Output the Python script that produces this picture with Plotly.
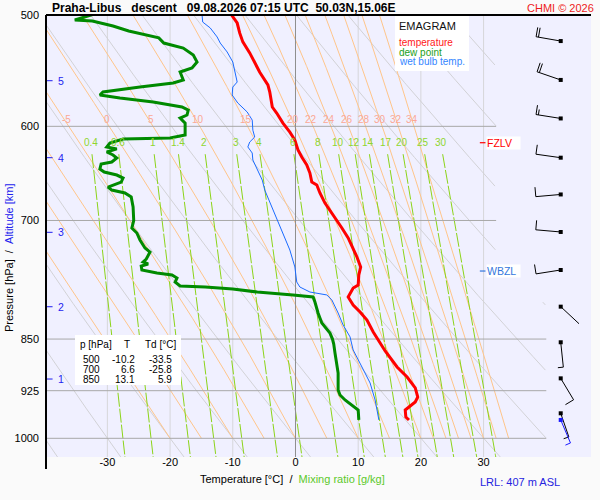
import numpy as np
import plotly.graph_objects as go

# ---------------- sounding values ----------------
t_p = [500, 506.6, 514.9, 522.5, 532.0, 540.9, 549.1, 560.7, 567.2, 581.3, 587.1, 596.8,
       605.7, 613.6, 623.7, 630.9, 639.2, 647.7, 657.3, 660.5, 669.2, 680.3, 688.2, 700,
       708.7, 720.3, 732.2, 743.1, 755.4, 765.4, 778.0, 781.8, 793.4, 803.9, 813.2, 824.0,
       840.3, 850, 866.8, 889.8, 904.5, 920.9, 934.6, 942.3, 954.7, 965.7, 970.5]
t_T = [-10.2, -9.3, -8.9, -8.4, -7.3, -6.5, -5.7, -4.4, -4.1, -3.7, -3.0, -2.0,
       -0.9, -0.1, 0.4, 1.0, 1.8, 2.3, 2.6, 3.4, 3.9, 4.7, 5.5, 6.6,
       7.4, 8.4, 9.2, 9.8, 10.4, 10.1, 10.0, 9.2, 8.4, 9.2, 10.3, 11.4,
       12.4, 13.1, 14.3, 16.2, 17.8, 19.1, 19.5, 19.1, 17.5, 17.6, 18.1]

td_p = [497.5, 500.8, 504.1, 504.9, 509.1, 513.3, 516.6, 519.1, 523.5, 527.8, 533.8, 540.0,
        545.3, 548.9, 556.1, 558.9, 562.6, 567.2, 570.0, 572.8, 576.6, 581.3, 584.2, 589.0,
        591.9, 596.8, 608.6, 611.6, 612.6, 616.6, 620.6, 622.6, 625.7, 628.8, 631.9, 636.1,
        638.2, 643.4, 646.6, 649.8, 653.0, 657.3, 662.7, 666.0, 669.2, 673.6, 684.7, 694.9,
        700, 708.7, 714.5, 722.7, 732.3, 737.1, 745.6, 749.2, 751.7, 754.2, 759.1, 762.9,
        765.4, 769.2, 774.2, 779.3, 780.6, 783.1, 787.0, 790.8, 793.4, 800.0, 814.5, 828.0,
        841.7, 850, 857.0, 869.7, 884.0, 898.6, 924.0, 931.5, 939.2, 946.9, 954.7, 970.4]
td_T = [-31.0, -33.3, -35.2, -32.4, -29.1, -26.6, -23.8, -21.8, -21.0, -17.9, -16.3, -15.7,
        -16.5, -18.4, -17.9, -19.5, -24.8, -30.7, -31.2, -28.0, -22.7, -18.1, -17.1, -17.3,
        -18.4, -17.6, -17.6, -20.0, -27.5, -29.6, -30.1, -28.5, -30.1, -29.1, -28.5, -29.3,
        -31.0, -31.2, -30.5, -28.5, -27.5, -27.8, -29.9, -29.3, -27.2, -26.2, -25.9, -25.9,
        -25.8, -26.1, -25.3, -24.8, -24.0, -23.2, -23.8, -24.3, -23.5, -24.6, -24.5, -22.1,
        -19.7, -18.9, -19.2, -18.4, -14.4, -10.0, -6.1, -0.4, 2.8, 3.1, 3.6, 4.2,
        5.5, 5.9, 6.1, 6.3, 6.6, 6.8, 6.8, 7.1, 7.9, 9.0, 10.0, 10.1]

tw_p = [500, 505.8, 510.7, 518.3, 523.5, 531.2, 540.0, 549.9, 558.0, 562.6, 570.0, 577.5,
        586.1, 593.9, 603.8, 610.6, 615.6, 620.6, 626.8, 634.0, 644.5, 655.2, 666.0, 679.2,
        696.0, 714.5, 734.7, 755.4, 774.2, 780.6, 787.0, 790.8, 797.3, 814.5, 830.7, 847.0,
        865.4, 889.8, 913.4, 939.2, 954.7, 970.4]
tw_T = [-14.9, -14.8, -13.6, -12.5, -12.0, -10.9, -10.0, -9.6, -9.3, -10.0, -10.1, -9.2,
        -7.7, -6.9, -6.8, -6.5, -7.3, -7.6, -6.9, -6.8, -6.1, -5.3, -4.9, -4.1,
        -3.0, -2.0, -0.9, -0.1, 0.2, 0.7, 2.3, 5.0, 5.8, 6.8, 7.6, 8.7,
        9.2, 10.6, 11.9, 12.7, 13.0, 13.3]

wind_p = [521.8, 556.1, 592.3, 631.6, 670.8, 713.3, 759.1, 806.1, 854.5, 906.5, 959.9]
wind_dir = [280, 289, 279, 278, 265, 275, 261, 133, 174, 149, 161]
wind_kt = [20, 20, 15, 10, 10, 10, 10, 2, 5, 10, 5]
sfc_wind_p = [970.4]
sfc_wind_dir = [157]
sfc_wind_kt = [5]

alt_km = [1, 2, 3, 4, 5]
alt_p = [907.5, 806.2, 713.7, 631.6, 556.8]

table_p = [500, 700, 850]
table_T = [-10.2, 6.6, 13.1]
table_Td = [-33.5, -25.8, 5.9]

fzlv_p = 616.3
wbzl_p = 760.4
lrl_m = 407

moist_thw = [-20, -15, -10, -5, 0, 5, 10, 15, 20, 22, 24, 26, 28, 30, 32, 34]
moist_labelled = [-5, 0, 5, 10, 15, 20, 22, 24, 26, 28, 30, 32, 34]
mix_w = [0.4, 0.6, 1, 1.4, 2, 3, 4, 6, 8, 10, 12, 14, 17, 20, 25, 30]
dry_theta_c = list(range(-60, 130, 10))
isotherms = [-30, -20, -10, 10, 20, 30]
isobars = [600, 700, 850, 925, 1000]
x_ticks = [-30, -20, -10, 0, 10, 20, 30]
y_ticks = [500, 600, 700, 850, 925, 1000]

# ---------------- layout constants ----------------
W, H = 600, 500
PL, PR, PT, PB = 46, 591, 15, 457   # plot area edges in pixels
ML, MT = PL, PT
MR, MB = W - PR, H - PB
PW, PH = PR - PL, PB - PT
XMIN, XMAX = -39.79, 47.13
PTOP, PBOT = 500.0, 1031.1
PX_PER_DEG = PW / (XMAX - XMIN)
PX_PER_LN = PH / np.log(PBOT / PTOP)
BARB_COL = 42.3
FONT = "Liberation Sans, Arial, sans-serif"


def px_x(px):
    return (px - PL) / PW


def px_y(py):
    return (PB - py) / PH


def tmax(p):
    return np.where(np.asarray(p) < 800, 32.0, 40.0)


# ---------------- thermodynamics for background ----------------
EPS, RD, CP, LV = 0.622, 287.04, 1005.7, 2.501e6


def es(tc):
    return 6.112 * np.exp(17.67 * tc / (tc + 243.5))


def dTdp(p, tk):
    e = es(tk - 273.15)
    rs = EPS * e / (p - e)
    return (RD * tk + LV * rs) / (CP + LV * LV * rs * EPS / (RD * tk * tk)) / p


def pseudo(thw):
    ps = np.linspace(1000, 500, 501)
    tk = thw + 273.15
    out = [tk]
    for i in range(len(ps) - 1):
        p, h = ps[i], ps[i + 1] - ps[i]
        k1 = dTdp(p, tk)
        k2 = dTdp(p + h / 2, tk + h / 2 * k1)
        k3 = dTdp(p + h / 2, tk + h / 2 * k2)
        k4 = dTdp(p + h, tk + h * k3)
        tk = tk + h / 6 * (k1 + 2 * k2 + 2 * k3 + k4)
        out.append(tk)
    return ps, np.array(out) - 273.15


def dewpoint_from_w(w, p):
    e = w * p / (622.0 + w)
    a = np.log(e / 6.112)
    return 243.5 * a / (17.67 - a)


fig = go.Figure()


def add_family(segs, color, width, dash=None):
    xs, ys = [], []
    for T, p in segs:
        T = np.asarray(T, float)
        p = np.asarray(p, float)
        ok = (T <= tmax(p)) & (T >= XMIN - 3)
        for t, pp, o in zip(T, p, ok):
            xs.append(float(t) if o else None)
            ys.append(float(pp) if o else None)
        xs.append(None)
        ys.append(None)
    fig.add_trace(go.Scatter(x=xs, y=ys, mode="lines", hoverinfo="skip",
                             line=dict(color=color, width=width, dash=dash)))


# isotherms
add_family([([t, t], [PTOP, PBOT]) for t in isotherms], "#D6D6DA", 1)
# dry adiabats
pg = np.linspace(PTOP, PBOT, 300)
add_family([((th + 273.15) * (pg / 1000.0) ** 0.2857 - 273.15, pg) for th in dry_theta_c], "#D2D2D6", 1)
# pseudo adiabats
moist = {thw: pseudo(thw) for thw in moist_thw}
add_family([(moist[t][1], moist[t][0]) for t in moist_thw], "#FFC58A", 1)
# mixing ratio lines
pm = np.linspace(628, PBOT, 200)
add_family([(dewpoint_from_w(w, pm), pm) for w in mix_w], "#8CD419", 1, "14px,2px")
# isobars
add_family([([XMIN, 32 if pb < 800 else 40], [pb, pb]) for pb in isobars], "#A8A8A8", 1)
# 0 degree isotherm
add_family([([0, 0], [PTOP, PBOT])], "#8E8E8E", 1)

# sounding curves
fig.add_trace(go.Scatter(x=tw_T, y=tw_p, mode="lines", line=dict(color="#1A6BFF", width=1), hoverinfo="skip"))
fig.add_trace(go.Scatter(x=td_T, y=td_p, mode="lines", line=dict(color="#008A00", width=3), hoverinfo="skip"))
fig.add_trace(go.Scatter(x=t_T, y=t_p, mode="lines", line=dict(color="#FF0000", width=3), hoverinfo="skip"))

# altitude ticks
ax_, ay_ = [], []
for p in alt_p:
    ax_ += [XMIN + 0.15, XMIN + 1.05, None]
    ay_ += [p, p, None]
fig.add_trace(go.Scatter(x=ax_, y=ay_, mode="lines", line=dict(color="#1E1EF0", width=1), hoverinfo="skip"))

# FZLV / WBZL ticks
fig.add_trace(go.Scatter(x=[29.4, 30.3], y=[fzlv_p, fzlv_p], mode="lines", line=dict(color="#FF0000", width=1.2), hoverinfo="skip"))
fig.add_trace(go.Scatter(x=[29.4, 30.3], y=[wbzl_p, wbzl_p], mode="lines", line=dict(color="#3377DD", width=1.2), hoverinfo="skip"))


# wind barbs
def barb(p, d, spd):
    L, full, half, sp = 25.0, 9.5, 5.5, 2.4
    a = np.radians(d)
    ux, uy = np.sin(a), -np.cos(a)
    qx, qy = -uy, ux

    def dat(dx, dy):
        return BARB_COL + dx / PX_PER_DEG, p * np.exp(dy / PX_PER_LN)

    segs = [(dat(0, 0), dat(L * ux, L * uy))]
    pos = L
    for _ in range(int(spd // 10)):
        segs.append((dat(pos * ux, pos * uy), dat(pos * ux + full * qx, pos * uy + full * qy)))
        pos -= sp
    if spd % 10 >= 5:
        segs.append((dat(pos * ux, pos * uy), dat(pos * ux + half * qx, pos * uy + half * qy)))
    return segs


def add_barbs(ps, ds, ss, color):
    xs, ys = [], []
    for p, d, s in zip(ps, ds, ss):
        for (x0, y0), (x1, y1) in barb(p, d, s):
            xs += [x0, x1, None]
            ys += [y0, y1, None]
    fig.add_trace(go.Scatter(x=xs, y=ys, mode="lines", line=dict(color=color, width=1), hoverinfo="skip"))
    fig.add_trace(go.Scatter(x=[BARB_COL] * len(ps), y=ps, mode="markers",
                             marker=dict(symbol="square", size=4, color=color), hoverinfo="skip"))


add_barbs(wind_p, wind_dir, wind_kt, "black")
add_barbs(sfc_wind_p, sfc_wind_dir, sfc_wind_kt, "#1A1AFF")

ann = []
shapes = []
NB = "\u00a0"

# moist adiabat labels at 600 hPa
for t in moist_labelled:
    ps, ts = moist[t]
    t600 = float(np.interp(600, ps[::-1], ts[::-1]))
    ann.append(dict(x=t600, y=np.log10(600), text=str(t), showarrow=False, xshift=-2, yshift=7,
                    xanchor="center", yanchor="middle",
                    font=dict(size=10, color="#FBA895", family=FONT)))
# mixing ratio labels
for w in mix_w:
    ann.append(dict(x=float(dewpoint_from_w(w, 620)), y=np.log10(616), text=f"{w:g}", showarrow=False,
                    xanchor="center", yanchor="middle",
                    font=dict(size=10, color="#8FD62E", family=FONT)))
# altitude labels
for k, p in zip(alt_km, alt_p):
    ann.append(dict(x=XMIN, y=np.log10(p), text=str(k), showarrow=False, xanchor="left", yanchor="middle",
                    xshift=10, font=dict(size=10.5, color="#1E1EF0", family=FONT)))
# FZLV / WBZL
ann.append(dict(x=30.4, y=np.log10(fzlv_p), text="FZLV", showarrow=False, xanchor="left", yanchor="middle",
                align="left", bgcolor="white", width=33, borderpad=0,
                font=dict(size=10.5, color="#FF0000", family=FONT)))
ann.append(dict(x=30.4, y=np.log10(wbzl_p), text="WBZL", showarrow=False, xanchor="left", yanchor="middle",
                align="left", bgcolor="white", width=33, borderpad=0,
                font=dict(size=10.5, color="#3377DD", family=FONT)))


def ptext(x, y, text, size=11, color="black", xanchor="center", angle=0):
    ann.append(dict(xref="paper", yref="paper", x=px_x(x), y=px_y(y), text=text, showarrow=False,
                    xanchor=xanchor, yanchor="middle", textangle=angle,
                    font=dict(size=size, color=color, family=FONT)))


# legend box
shapes.append(dict(type="rect", xref="paper", yref="paper", x0=px_x(395), x1=px_x(469), y0=px_y(71), y1=px_y(16),
                   fillcolor="white", line=dict(width=0), layer="above"))
for txt, yy, col, sz in [("EMAGRAM", 26, "#111111", 11), ("temperature", 42, "#FF2020", 10),
                         ("dew point", 52, "#22A022", 10), ("wet bulb temp.", 62, "#3385FF", 10)]:
    ptext(397, yy, txt, sz, col, "left")

# table box
shapes.append(dict(type="rect", xref="paper", yref="paper", x0=px_x(75), x1=px_x(181), y0=px_y(385), y1=px_y(335),
                   fillcolor="white", line=dict(width=0), layer="above"))
ptext(78, 344, "p [hPa]", 10, "black", "left")
ptext(127, 344, "T", 10, "black", "center")
ptext(143, 344, "Td [°C]", 10, "black", "left")
for i, (pp, tt, dd) in enumerate(zip(table_p, table_T, table_Td)):
    yy = 359 + 10 * i
    ptext(102, yy, str(pp), 10, "black", "right")
    ptext(137, yy, f"{tt:.1f}", 10, "black", "right")
    ptext(174, yy, f"{dd:.1f}", 10, "black", "right")

# titles
title = "Praha-Libus" + NB * 3 + "descent" + NB * 3 + "09.08.2026 07:15 UTC" + NB * 2 + "50.03N,15.06E"
ptext(50, 7.5, "<b>" + title + "</b>", 12, "black", "left")
ptext(596, 7.5, "CHMI © 2026", 11, "#EE1C1C", "right")
ptext(292, 479, "Temperature [°C]" + NB * 2 + "/" + NB * 2 + "<span style='color:#5CC92B'>Mixing ratio [g/kg]</span>")
ptext(520, 482, f"LRL: {lrl_m} m ASL", 11, "#2424E0")
ptext(9, 258, "Pressure [hPa]" + NB * 2 + "/" + NB * 2 + "<span style='color:#2222EE'>Altitude [km]</span>",
      11, "black", "center", -90)

# axis borders
shapes.append(dict(type="line", xref="paper", yref="paper", x0=0, x1=0, y0=px_y(469), y1=1,
                   line=dict(color="black", width=2), layer="above"))
shapes.append(dict(type="line", xref="paper", yref="paper", x0=0, x1=1, y0=1, y1=1,
                   line=dict(color="black", width=2), layer="above"))

fig.update_layout(
    width=W, height=H, margin=dict(l=ML, r=MR, t=MT, b=MB, autoexpand=False),
    paper_bgcolor="#FAFAFA", plot_bgcolor="#F0F0FF", showlegend=False,
    font=dict(family=FONT, size=11, color="black"),
    annotations=ann, shapes=shapes,
)
fig.update_xaxes(range=[XMIN, XMAX], tickvals=x_ticks, ticktext=[str(v) for v in x_ticks], automargin=False,
                 showgrid=False, zeroline=False, showline=False, ticks="", ticklabelstandoff=-3,
                 tickfont=dict(size=11, color="black", family=FONT))
fig.update_yaxes(type="log", range=[np.log10(PBOT), np.log10(PTOP)], tickvals=y_ticks, automargin=False,
                 ticktext=[str(v) for v in y_ticks], showgrid=False, zeroline=False, showline=False,
                 ticks="", ticklabelstandoff=6, tickfont=dict(size=11, color="black", family=FONT))

fig.write_html("out.html", config={"displayModeBar": False},
               post_script="document.body.style.margin='0px';")
